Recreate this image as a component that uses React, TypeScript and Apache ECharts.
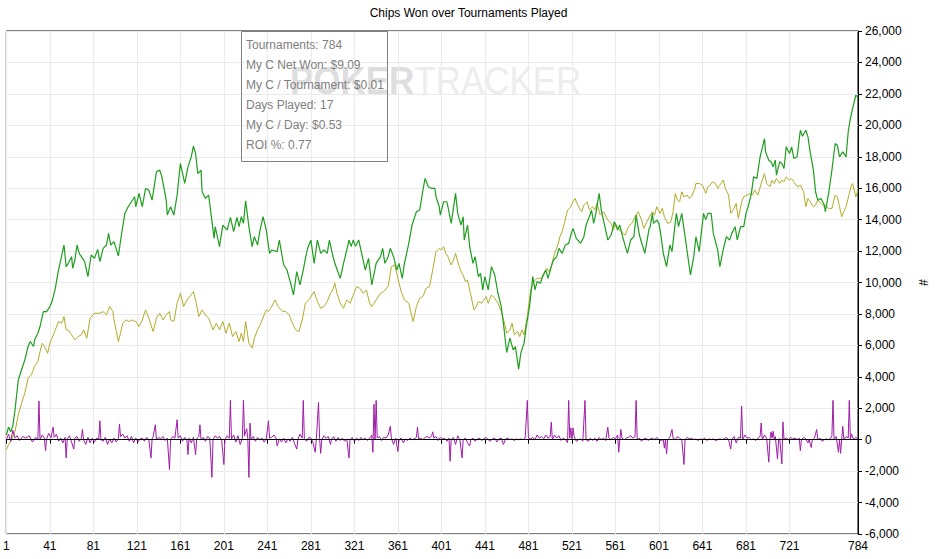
import React, { useEffect, useRef } from "react";
import * as echarts from "echarts";

const FONT = '"Liberation Sans", Arial, sans-serif';

// one category per tournament played
const tournaments: string[] = [];
for (let t = 1; t <= 784; t++) tournaments.push(String(t));

const labeledTournaments = [1, 41, 81, 121, 161, 201, 241, 281, 321, 361, 401, 441, 481, 521, 561, 601, 641, 681, 721, 784];

const summaryLines = [
  "Tournaments: 784",
  "My C Net Won: $9.09",
  "My C / Tournament: $0.01",
  "Days Played: 17",
  "My C / Day: $0.53",
  "ROI %: 0.77",
];

// [tournament, chips]
const chipsWon: [number, number][] = [
  [1, 300], [3, 800], [5, 500], [7, 900], [9, 1905], [12, 3810], [15, 4446], [18, 5081], [21, 5928], [23, 6245],
  [26, 5928], [27, 6351], [30, 6774], [32, 7198], [35, 8150], [38, 8150], [41, 8468], [43, 8786], [46, 9632], [49, 10797],
  [52, 11749], [54, 12384], [56, 11008], [58, 11220], [61, 11644], [62, 10903], [64, 11432], [66, 12384], [68, 11855], [70, 11644],
  [73, 11326], [76, 10373], [79, 11749], [82, 11538], [85, 12109], [87, 11326], [90, 12173], [93, 12384], [95, 13125], [97, 12384],
  [100, 12596], [104, 11686], [107, 13125], [110, 14396], [113, 14819], [116, 15137], [119, 15454], [120, 14819], [123, 15666], [126, 14819],
  [129, 15983], [132, 15878], [135, 15242], [139, 17042], [142, 17148], [144, 16724], [148, 15242], [149, 14290], [152, 14819], [155, 14290],
  [158, 15560], [161, 17571], [165, 16301], [168, 17359], [171, 17995], [173, 18672], [175, 18206], [177, 16936], [180, 17148], [181, 15772],
  [184, 15348], [187, 15560], [192, 12808], [193, 13549], [197, 12278], [200, 13655], [204, 13337], [207, 14142], [210, 13231], [213, 14142],
  [215, 13549], [217, 14184], [219, 13761], [221, 15200], [224, 13549], [227, 12278], [229, 12914], [232, 12384], [234, 13231], [237, 14184],
  [240, 13337], [243, 11855], [245, 12067], [250, 11961], [252, 12702], [256, 11114], [259, 10797], [262, 10056], [265, 9209], [268, 10691],
  [271, 9844], [274, 10797], [276, 11538], [278, 12173], [281, 12702], [284, 11220], [287, 12702], [290, 11855], [293, 12067], [296, 11855],
  [298, 12702], [301, 11749], [303, 11220], [308, 10267], [311, 11220], [314, 12067], [316, 12702], [318, 12300], [320, 12702], [322, 12300],
  [325, 12702], [328, 11749], [331, 10797], [334, 11538], [337, 9844], [341, 11220], [345, 11644], [347, 12173], [349, 11220], [352, 11644],
  [354, 12173], [357, 11644], [360, 10797], [362, 11220], [365, 10267], [367, 11220], [371, 12490], [374, 13655], [378, 14502], [381, 14607],
  [384, 15878], [386, 16618], [389, 16089], [392, 15983], [395, 15983], [396, 15454], [399, 14819], [400, 14290], [403, 15137], [406, 15137],
  [407, 14819], [410, 13761], [412, 14713], [414, 15666], [416, 14396], [419, 13655], [421, 14184], [422, 12702], [425, 13655], [427, 12278],
  [430, 11220], [432, 11644], [435, 10373], [437, 10585], [439, 9527], [441, 10373], [444, 9527], [447, 11008], [450, 10479], [453, 9315],
  [456, 8468], [458, 7410], [461, 5547], [464, 6457], [467, 5716], [469, 5928], [472, 4488], [474, 5505], [477, 6140], [479, 7198],
  [482, 8468], [485, 10373], [487, 9527], [489, 10056], [492, 9950], [494, 10373], [497, 10797], [499, 10267], [502, 11008], [504, 11432],
  [507, 11644], [509, 12173], [512, 11855], [515, 12384], [518, 12490], [520, 13019], [522, 13443], [525, 12808], [529, 12490], [532, 12914],
  [534, 13655], [537, 14184], [539, 14607], [541, 13761], [543, 14396], [546, 15666], [548, 14607], [550, 13972], [554, 12702], [557, 13019],
  [559, 13549], [560, 13867], [563, 13337], [565, 13655], [568, 12808], [572, 11855], [575, 12702], [578, 12914], [580, 14290], [583, 13019],
  [588, 11855], [592, 13443], [593, 13549], [595, 14396], [596, 13761], [599, 13972], [601, 13761], [603, 12914], [605, 11855], [608, 11008],
  [611, 12384], [613, 11961], [617, 14396], [619, 13549], [622, 14396], [625, 12914], [630, 10479], [633, 11644], [635, 12914], [638, 11961],
  [642, 14396], [644, 14000], [646, 14396], [649, 14396], [651, 13125], [655, 12067], [657, 11008], [660, 12067], [663, 12914], [666, 12702],
  [668, 13125], [671, 13549], [673, 12702], [676, 13549], [679, 13549], [681, 14396], [683, 14819], [686, 15666], [688, 16724], [691, 16618],
  [694, 17995], [698, 19159], [699, 18312], [702, 17783], [704, 17677], [706, 17359], [708, 17783], [709, 16830], [712, 17677], [714, 17571],
  [716, 17254], [718, 18630], [721, 18206], [723, 18630], [725, 17889], [728, 17995], [731, 19688], [733, 19300], [736, 19688], [738, 19265],
  [740, 18312], [743, 17148], [745, 15772], [747, 15242], [750, 15348], [753, 14925], [754, 14502], [757, 15666], [760, 17148], [763, 18841],
  [765, 18735], [767, 17995], [770, 18312], [773, 17995], [775, 19583], [777, 20430], [779, 21065], [782, 21912], [784, 21806],
];

const chipsOther: [number, number][] = [
  [1, -635], [3, -318], [6, 0], [9, 529], [12, 1588], [15, 2329], [18, 2964], [21, 3917], [24, 4129], [27, 4658],
  [30, 4976], [32, 5611], [34, 6140], [36, 5928], [39, 5505], [41, 6140], [43, 6457], [46, 6986], [49, 7516], [52, 7410],
  [54, 7833], [56, 6986], [58, 6986], [61, 6668], [64, 6351], [67, 6563], [70, 6668], [72, 6986], [75, 6457], [78, 7727],
  [82, 8045], [87, 8045], [90, 8150], [93, 7939], [96, 8468], [99, 8150], [100, 7621], [104, 6245], [106, 6774], [108, 7410],
  [111, 7621], [114, 7516], [117, 7621], [120, 7516], [123, 7198], [126, 7621], [129, 8256], [132, 7727], [136, 6880], [139, 7727],
  [142, 8045], [145, 7621], [148, 7939], [151, 8150], [152, 7621], [155, 7516], [158, 8680], [161, 9315], [164, 8468], [167, 8891],
  [171, 9209], [173, 9421], [175, 8891], [178, 7833], [181, 8256], [184, 7939], [187, 7727], [191, 6986], [194, 7410], [197, 6986],
  [200, 7516], [203, 6774], [206, 7410], [209, 6563], [212, 6880], [215, 6245], [217, 6774], [219, 6245], [221, 7516], [224, 6140],
  [227, 5822], [229, 6457], [232, 6986], [235, 7410], [238, 7939], [240, 8256], [242, 8150], [245, 8468], [248, 8891], [251, 8468],
  [255, 8150], [258, 8150], [261, 7939], [264, 7410], [267, 6986], [270, 6880], [273, 7621], [276, 8680], [279, 8891], [284, 9421],
  [287, 8786], [290, 8362], [293, 8468], [296, 8786], [299, 9315], [301, 9527], [303, 9950], [305, 9315], [308, 8680], [311, 8362],
  [314, 8891], [317, 8680], [320, 9209], [323, 9739], [326, 9633], [329, 9315], [332, 9527], [335, 8680], [337, 8468], [341, 8891],
  [345, 9315], [348, 9421], [352, 9739], [355, 11008], [358, 11114], [361, 10267], [364, 9421], [367, 8891], [371, 8680], [375, 7516],
  [378, 8468], [381, 8997], [384, 9103], [387, 9633], [390, 9739], [393, 10797], [396, 11961], [399, 12173], [401, 12067], [403, 12278],
  [405, 11855], [407, 11644], [410, 11114], [412, 11432], [414, 11855], [416, 11326], [419, 10691], [421, 10479], [423, 10056], [425, 10162],
  [428, 9209], [431, 8256], [433, 8468], [435, 8786], [438, 8680], [440, 8891], [442, 9103], [444, 8680], [447, 9209], [450, 8997],
  [453, 8680], [456, 8150], [459, 7410], [461, 6774], [464, 6986], [466, 7410], [468, 6668], [471, 6880], [473, 6563], [475, 6986],
  [477, 6668], [480, 7833], [483, 9527], [486, 10056], [489, 10267], [493, 10267], [496, 10691], [498, 10903], [500, 10691], [502, 11008],
  [505, 11855], [508, 12384], [510, 12914], [512, 13231], [514, 13761], [517, 14607], [519, 14713], [522, 15137], [524, 15348], [525, 15137],
  [528, 14713], [530, 14502], [532, 14925], [535, 15137], [537, 14607], [540, 14819], [542, 14607], [544, 15031], [547, 14290], [550, 14502],
  [554, 13972], [557, 13761], [559, 13337], [561, 13761], [563, 13549], [566, 13231], [568, 13125], [570, 13019], [573, 13549], [576, 13761],
  [579, 14184], [582, 14502], [585, 13972], [587, 13443], [590, 13867], [593, 14290], [595, 14502], [597, 14290], [599, 14819], [602, 14396],
  [604, 14713], [606, 14184], [609, 13761], [612, 13867], [614, 14502], [616, 15666], [618, 15242], [620, 15137], [622, 15772], [624, 15454],
  [627, 15560], [629, 15348], [631, 15454], [634, 15983], [635, 16301], [638, 16301], [641, 16195], [644, 15666], [646, 16089], [648, 16195],
  [650, 16407], [653, 16301], [655, 15983], [657, 16195], [660, 16513], [662, 15983], [665, 15560], [667, 14396], [670, 14713], [672, 15031],
  [674, 14078], [677, 15137], [679, 15454], [682, 15560], [685, 15666], [687, 15560], [689, 15878], [692, 15560], [695, 16301], [698, 16936],
  [700, 16301], [703, 16089], [705, 16513], [707, 16301], [709, 16618], [712, 16301], [714, 16513], [716, 16407], [718, 16724], [721, 16513],
  [723, 16618], [725, 16407], [727, 16195], [729, 16089], [731, 16195], [734, 15772], [736, 14819], [738, 15348], [740, 15137], [743, 14819],
  [745, 14925], [747, 15242], [750, 15031], [753, 14819], [754, 14925], [757, 14713], [760, 14713], [763, 15560], [765, 15454], [767, 14819],
  [769, 14184], [771, 14502], [773, 14819], [776, 15666], [778, 16195], [779, 16301], [782, 15454], [784, 15878],
];

const perTournament: [number, number][] = [
  [1, 0], [3, 350], [5, -100], [7, 600], [9, 100], [11, 250], [13, -50], [16, 200], [19, 100], [22, 250],
  [25, -150], [28, 150], [30, 0], [31, 2450], [32, 0], [34, 300], [36, 100], [37, -700], [38, 50], [40, 400],
  [42, 100], [44, 800], [45, 150], [47, 350], [49, -100], [51, 100], [53, -200], [55, 150], [56, -1160], [57, 50],
  [59, 250], [61, -150], [63, -600], [64, 100], [66, 200], [68, -100], [70, 100], [71, 650], [72, 0], [74, -300],
  [76, 150], [78, -200], [80, 100], [82, -150], [84, 100], [86, 50], [87, 1200], [88, 0], [90, -100], [92, 150],
  [94, -300], [96, 50], [98, -200], [100, 100], [102, -150], [104, 50], [105, 1000], [106, 200], [108, 350], [110, 100],
  [112, 250], [114, -100], [116, 200], [118, -200], [120, 100], [122, -150], [124, 50], [126, 100], [128, -100], [130, 150],
  [132, 0], [134, -1160], [135, 50], [136, 200], [138, 950], [139, 0], [141, 150], [143, 50], [145, 200], [147, -50],
  [149, 100], [151, -1900], [152, 0], [154, 200], [156, 100], [158, 1270], [159, 100], [161, 250], [163, -100], [165, 150],
  [167, 0], [168, -950], [169, 100], [171, -200], [173, 150], [175, -950], [176, 50], [178, 200], [179, 950], [180, 0],
  [182, 150], [184, -100], [186, 200], [188, 100], [190, -2400], [191, 0], [193, 250], [195, 100], [197, 200], [199, -50],
  [201, -1580], [202, 0], [204, 250], [206, 100], [207, 2500], [208, 50], [210, 300], [212, -150], [214, 250], [216, -300],
  [218, 100], [219, 2500], [220, 250], [222, 700], [223, 100], [224, -2400], [225, 1050], [226, 0], [228, 200], [230, -100],
  [232, 150], [234, 0], [236, 100], [238, -150], [240, 50], [242, 1200], [243, 100], [245, 150], [247, 300], [249, 100],
  [250, -400], [252, 50], [254, -150], [256, 100], [258, -200], [260, 50], [262, -100], [264, 150], [266, -250], [268, -600],
  [269, 0], [271, 350], [273, 100], [274, 2500], [275, 50], [277, -100], [279, 150], [281, 100], [283, -200], [285, -800],
  [286, 50], [288, 2370], [289, 100], [290, -870], [291, 0], [293, 250], [295, 100], [297, 200], [299, -300], [300, 50],
  [302, 200], [304, -100], [306, 150], [308, -50], [310, 100], [312, -100], [314, 50], [316, -1160], [317, 0], [319, 150],
  [321, -100], [323, 100], [325, -50], [327, 150], [329, 0], [331, 100], [333, -50], [335, 100], [337, 300], [338, -800],
  [339, 2250], [340, 0], [341, 2500], [342, 100], [344, 200], [346, -50], [348, 150], [350, 100], [352, 300], [354, 850],
  [355, 100], [357, -300], [359, 100], [361, -750], [362, 0], [364, 100], [366, -200], [368, 50], [370, -50], [372, 100],
  [374, 0], [376, 50], [378, 150], [379, 800], [380, 50], [382, 100], [384, 0], [386, 150], [388, 200], [390, 100],
  [392, 250], [393, 500], [394, 100], [396, 200], [398, -50], [400, 150], [402, 50], [404, 100], [406, -100], [408, 100],
  [409, -1370], [410, 0], [412, 150], [414, -300], [416, 250], [418, 0], [420, -1160], [421, 0], [423, 100], [425, -200],
  [427, -400], [428, 0], [430, 100], [432, -100], [434, 50], [436, 100], [438, -50], [440, 50], [442, 150], [444, 0],
  [446, -100], [448, 50], [450, 100], [452, -150], [454, 50], [456, 100], [458, -300], [460, 50], [462, 100], [464, 0],
  [466, 50], [468, -50], [470, 50], [472, 0], [474, 50], [476, 0], [478, 100], [480, 2500], [481, 100], [483, 50],
  [485, 150], [487, 0], [489, 300], [491, 100], [493, 200], [495, 50], [497, 300], [499, 100], [501, 200], [502, 1120],
  [503, 0], [505, 300], [507, 100], [509, 250], [511, -50], [513, 100], [515, 0], [517, -190], [518, 2500], [519, 100],
  [520, 750], [521, 0], [522, 750], [523, 200], [525, -100], [527, 0], [529, 50], [531, -100], [533, 2500], [534, 0],
  [536, -100], [538, 100], [540, -50], [542, 100], [544, -100], [546, 150], [548, 0], [550, 100], [552, -50], [554, 790],
  [555, 100], [557, 0], [559, 150], [561, 50], [563, 300], [564, -800], [565, 0], [566, 650], [567, 100], [569, 0],
  [571, 100], [573, 150], [575, 250], [577, 100], [579, 200], [580, 2500], [581, 0], [583, 100], [585, -100], [587, 50],
  [589, 100], [591, -50], [593, 50], [595, 100], [597, 0], [599, 150], [601, 0], [603, -50], [605, 0], [606, -540],
  [607, 0], [608, -900], [609, 0], [611, 150], [613, 650], [614, 100], [616, 0], [618, 200], [620, 100], [622, 0],
  [624, -1580], [625, 0], [627, 150], [629, 50], [631, 100], [633, 0], [635, 50], [637, -50], [639, 50], [641, 0],
  [643, 100], [645, -50], [647, 50], [649, 0], [651, 50], [653, -50], [655, 0], [657, 50], [659, 0], [661, 50],
  [663, 150], [665, 0], [667, -600], [668, 0], [670, 200], [672, -200], [674, 150], [676, 100], [677, 2140], [678, 0],
  [680, 300], [682, 100], [684, 150], [686, 0], [688, 50], [690, -50], [692, 100], [694, 200], [695, 1060], [696, 0],
  [698, 300], [700, 100], [702, -1430], [703, 0], [704, 500], [705, 100], [706, 540], [707, 0], [708, 200], [710, -1230],
  [711, 0], [712, 100], [714, -1540], [715, 1120], [716, 0], [718, 100], [720, 0], [722, 150], [724, 50], [726, 100],
  [728, 0], [730, 100], [731, -700], [732, 0], [734, 150], [736, 50], [738, -200], [739, 0], [741, -500], [742, 0],
  [744, 100], [746, 650], [747, 0], [749, 100], [751, -100], [753, 0], [755, 50], [757, 0], [759, 100], [760, 250],
  [761, 2500], [762, 0], [764, 200], [766, -800], [767, 0], [768, -870], [769, 0], [770, 850], [771, 0], [773, 200],
  [775, 100], [776, 2500], [777, 0], [778, 370], [780, 0], [782, 150], [784, 50],
];

const toIndexed = (pts: [number, number][]) => pts.map(([t, v]) => [t - 1, v]);

const showTick = (index: number) => labeledTournaments.includes(index + 1);

const App: React.FC = () => {
  const chartRef = useRef<HTMLDivElement>(null);

  useEffect(() => {
    if (!chartRef.current) return;
    const chart = echarts.init(chartRef.current, undefined, { renderer: "svg" });

    chart.setOption({
      animation: false,
      textStyle: { fontFamily: FONT },
      title: {
        text: "Chips Won over Tournaments Played",
        left: "center",
        top: 2,
        textStyle: { fontSize: 12, fontWeight: "normal", color: "#000", fontFamily: FONT },
      },
      grid: {
        left: 2,
        right: 79,
        top: 31,
        bottom: 25,
        show: true,
        borderColor: "#000",
        borderWidth: 1,
      },
      xAxis: {
        type: "category",
        data: tournaments,
        boundaryGap: false,
        axisLine: { lineStyle: { color: "#000" } },
        axisTick: { interval: showTick, length: 4, lineStyle: { color: "#000" } },
        axisLabel: { interval: showTick, color: "#000", fontSize: 12, margin: 6 },
        splitLine: { show: true, interval: showTick, lineStyle: { color: "#ebebeb" } },
      },
      yAxis: {
        type: "value",
        position: "right",
        min: -6000,
        max: 26000,
        interval: 2000,
        name: "#",
        nameLocation: "middle",
        nameGap: 59,
        nameRotate: -90,
        nameTextStyle: { color: "#000", fontSize: 12 },
        axisLine: { show: true, lineStyle: { color: "#000" } },
        axisTick: { show: true, length: 4, lineStyle: { color: "#000" } },
        axisLabel: {
          color: "#000",
          fontSize: 12,
          margin: 7,
          formatter: (v: number) => v.toLocaleString("en-US"),
        },
        splitLine: { lineStyle: { color: "#ebebeb" } },
      },
      graphic: [
        {
          type: "text",
          x: 290,
          y: 81,
          scaleX: 0.92,
          z: 0,
          silent: true,
          style: {
            text: "{a|POKER}{b|TRACKER}",
            verticalAlign: "middle",
            rich: {
              a: { fill: "#dedede", fontSize: 38, fontWeight: "bold", fontFamily: FONT },
              b: { fill: "#ededed", fontSize: 38, fontFamily: FONT },
            },
          },
        },
        {
          type: "rect",
          x: 241.5,
          y: 31.5,
          z: 10,
          shape: { x: 0, y: 0, width: 146, height: 130 },
          style: { fill: "none", stroke: "#808080", lineWidth: 1 },
        },
        ...summaryLines.map((line, i) => ({
          type: "text",
          x: 246,
          y: 45 + i * 20,
          z: 10,
          style: { text: line, fill: "#808080", fontSize: 12, fontFamily: FONT, verticalAlign: "middle" },
        })),
      ],
      series: [
        {
          type: "line",
          name: "Other",
          data: toIndexed(chipsOther),
          showSymbol: false,
          symbol: "none",
          lineStyle: { color: "#b3ab2a", width: 1 },
        },
        {
          type: "line",
          name: "Chips Won",
          data: toIndexed(chipsWon),
          showSymbol: false,
          symbol: "none",
          lineStyle: { color: "#1f9e1f", width: 1.2 },
        },
        {
          type: "line",
          name: "Per Tournament",
          data: toIndexed(perTournament),
          showSymbol: false,
          symbol: "none",
          lineStyle: { color: "#a01ca8", width: 1 },
          markLine: {
            silent: true,
            symbol: "none",
            label: { show: false },
            lineStyle: { color: "#000", width: 1, type: "solid" },
            data: [{ yAxis: 0 }],
          },
        },
      ],
    });

    return () => {
      chart.dispose();
    };
  }, []);

  return (
    <div
      ref={chartRef}
      style={{ position: "fixed", left: 0, top: 0, width: "937px", height: "559px", background: "#fff" }}
    />
  );
};

export default App;
